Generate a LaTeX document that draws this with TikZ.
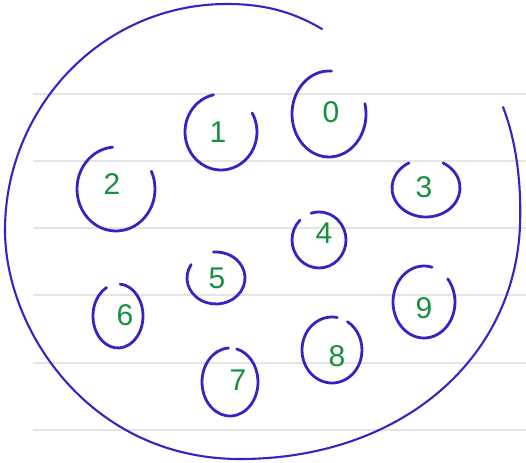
\documentclass[tikz,border=0pt]{standalone}
\usepackage{fontspec}
\setmainfont{Liberation Sans}
\usepackage{xcolor}
\definecolor{penblue}{HTML}{3A22C2}
\definecolor{pengreen}{HTML}{17913F}
\definecolor{rulegray}{HTML}{E4E4E4}
\tikzset{
  ruleline/.style={draw=rulegray, line width=1.3pt},
  loopline/.style={draw=penblue, line width=2.1pt, line cap=round},
  ringline/.style={draw=penblue, line width=2.8pt, line cap=round},
  digit/.style={text=pengreen, font=\fontsize{30}{30}\selectfont, inner sep=0pt}
}
\begin{document}
\begin{tikzpicture}[x=1pt, y=-1pt]
\useasboundingbox (0,0) rectangle (526,462);
\foreach \ly in {94,161,228,295,363,430}
  \draw[ruleline] (33,\ly) -- (526,\ly);
\draw[loopline] (322,29) .. controls (290,10) and (260,4) .. (227,4)
  .. controls (100,4) and (5,110) .. (5,230)
  .. controls (5,330) and (90,459) .. (240,459)
  .. controls (400,459) and (515,360) .. (520,225)
  .. controls (522,170) and (512,130) .. (503,107);
\foreach \n/\cx/\cy/\rx/\ry/\a/\b/\tx/\ty in {
  0/329/114/37/43/86/374/331/112,
  1/221/132/36/38/102/390/218/132,
  2/116/189/39/42/95/385/112/184,
  3/426/188/34/29/120/420/424/187,
  4/319/240/27/28/135/467/324/233,
  5/216/278/29/26/149/455/217/278,
  6/118/316/25/32/117/445/125/315,
  7/230/382/28/34/93/436/238/380,
  8/332/350/30/33/80/419/337/356,
  9/424/302/31/36/75/400/424/308}{
  \coordinate (c\n) at (\cx,\cy);
  \node[digit] (d\n) at (\tx,\ty) {\n};
  \draw[ringline] (c\n) ++({\rx*cos(\a)},{-\ry*sin(\a)}) arc[start angle=-\a, end angle=-\b, x radius=\rx, y radius=\ry];
}
\end{tikzpicture}
\end{document}
